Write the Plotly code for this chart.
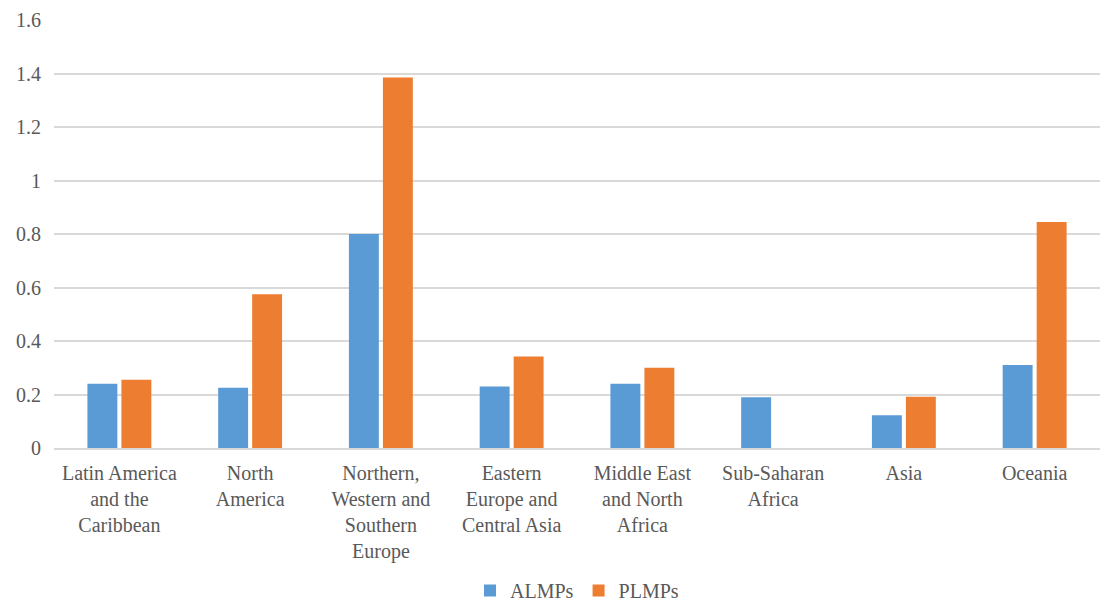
import plotly.graph_objects as go

categories = [
    "Latin America<br>and the<br>Caribbean",
    "North<br>America",
    "Northern,<br>Western and<br>Southern<br>Europe",
    "Eastern<br>Europe and<br>Central Asia",
    "Middle East<br>and North<br>Africa",
    "Sub-Saharan<br>Africa",
    "Asia",
    "Oceania",
]
almps = [0.24, 0.225, 0.80, 0.23, 0.24, 0.19, 0.122, 0.31]
plmps = [0.255, 0.575, 1.385, 0.342, 0.30, 0.0, 0.192, 0.845]

FONT = "Liberation Serif, Times New Roman, DejaVu Serif, serif"
GREY = "#595959"

fig = go.Figure()
fig.add_trace(go.Bar(name="ALMPs", x=categories, y=almps,
                     marker=dict(color="#5b9bd5", line=dict(width=0))))
fig.add_trace(go.Bar(name="PLMPs", x=categories, y=plmps,
                     marker=dict(color="#ed7d31", line=dict(width=0))))

fig.update_layout(
    width=1101, height=610,
    margin=dict(l=54, r=1, t=20, b=162),
    paper_bgcolor="white", plot_bgcolor="white",
    barmode="group", bargap=0.48, bargroupgap=0.12,
    font=dict(family=FONT, size=20, color=GREY),
    showlegend=True,
    legend=dict(orientation="h", x=0.5, xanchor="center",
                yref="container", y=0.0, yanchor="bottom",
                font=dict(family=FONT, size=20, color=GREY),
                itemwidth=30, tracegroupgap=0),
    xaxis=dict(showgrid=False, showline=True, linecolor="#d9d9d9", linewidth=1.5,
               ticks="", ticklabelstandoff=6,
               tickfont=dict(family=FONT, size=20, color=GREY)),
    yaxis=dict(range=[0, 1.6], dtick=0.2, showgrid=True, gridcolor="#d9d9d9",
               gridwidth=1.5, zeroline=False, showline=False, ticks="",
               ticklabelstandoff=12, tickformat="~g",
               tickfont=dict(family=FONT, size=20, color=GREY)),
)

fig.write_html("out.html")
